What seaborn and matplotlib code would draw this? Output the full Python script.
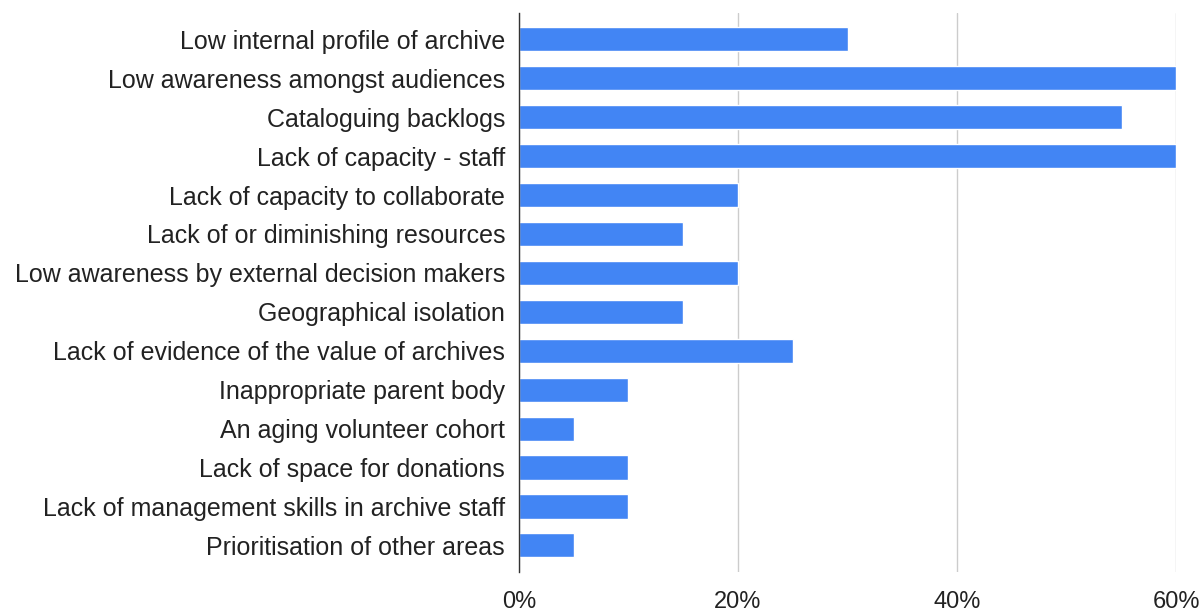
import matplotlib
matplotlib.use("Agg")
import matplotlib.pyplot as plt
import seaborn as sns
import pandas as pd
from matplotlib.ticker import FuncFormatter

categories = [
    "Low internal profile of archive",
    "Low awareness amongst audiences",
    "Cataloguing backlogs",
    "Lack of capacity - staff",
    "Lack of capacity to collaborate",
    "Lack of or diminishing resources",
    "Low awareness by external decision makers",
    "Geographical isolation",
    "Lack of evidence of the value of archives",
    "Inappropriate parent body",
    "An aging volunteer cohort",
    "Lack of space for donations",
    "Lack of management skills in archive staff",
    "Prioritisation of other areas",
]
values = [30, 60, 55, 60, 20, 15, 20, 15, 25, 10, 5, 10, 10, 5]
xticks = [0, 20, 40, 60]

sns.set_theme(style="white")
plt.rcParams['font.family'] = ['Liberation Sans', 'DejaVu Sans']

df = pd.DataFrame({"cat": categories, "val": values})

fig = plt.figure(figsize=(12.04, 6.11), dpi=100)
ax = fig.add_axes([0.431, 0.064, 0.546, 0.915])
sns.barplot(data=df, x="val", y="cat", color="#4285F4", saturation=1, width=0.62, ax=ax)

ax.set_xlim(0, 60)
ax.set_ylim(13.68, -0.68)
ax.set_xticks(xticks)
ax.xaxis.set_major_formatter(FuncFormatter(lambda v, p: f"{int(v)}%"))
ax.grid(axis="x", color="#cccccc", linewidth=1)
ax.set_axisbelow(True)
for s in ["top", "right", "bottom"]:
    ax.spines[s].set_visible(False)
ax.spines["left"].set_color("#333333")
ax.spines["left"].set_linewidth(1)
ax.set_xlabel("")
ax.set_ylabel("")
ax.tick_params(axis="y", length=0, pad=10, labelsize=18, labelcolor="#222222")
ax.tick_params(axis="x", length=0, pad=14, labelsize=17, labelcolor="#222222")

fig.savefig("out.png", dpi=100)
